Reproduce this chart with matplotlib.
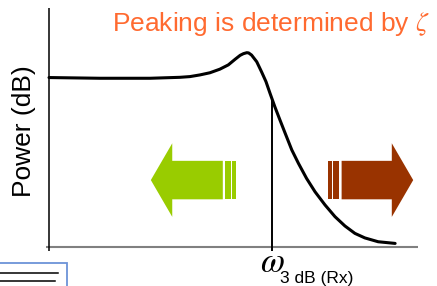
import matplotlib
matplotlib.use("Agg")
import matplotlib.pyplot as plt
from matplotlib.patches import Polygon, Rectangle
from matplotlib.lines import Line2D

plt.rcParams['font.family'] = ['Liberation Sans', 'DejaVu Sans']
plt.rcParams['mathtext.fontset'] = 'stix'

# response curve (arbitrary units, axes run 0..100)
freq = [0.0, 13.8, 27.4, 35.5, 38.2, 40.9, 43.6, 46.3, 48.6, 50.4, 51.8, 52.7,
        53.6, 54.1, 54.9, 56.3, 57.6, 58.8, 59.9, 61.2, 62.6, 64.0, 65.8, 67.6,
        69.8, 72.1, 74.8, 77.5, 80.2, 82.9, 85.6, 89.2, 93.8]
power = [70.9, 70.6, 70.6, 71.0, 71.3, 72.0, 72.9, 74.4, 76.2, 78.5, 80.2, 80.9,
         81.3, 81.2, 80.3, 77.5, 73.3, 69.2, 64.3, 58.7, 53.1, 47.6, 40.6, 35.0,
         28.7, 23.1, 17.6, 12.7, 8.8, 5.7, 3.8, 2.2, 1.5]
f3db = 60.4
p3db = 62.1

title = "Peaking is determined by $\\zeta$"
ylabel = "Power (dB)"
xsym = "$\\omega$"
xsub = "3 dB (Rx)"

GREEN = '#99CC00'
BROWN = '#993300'
ORANGE = '#FF6A30'


def block_arrow(ax, tip, base, end, stripes, color, y0=28.0, shaft=8.05, head=15.4):
    # striped block arrow, tip/base/end are x positions
    pts = [(end, y0 + shaft), (base, y0 + shaft), (base, y0 + head), (tip, y0),
           (base, y0 - head), (base, y0 - shaft), (end, y0 - shaft)]
    ax.add_patch(Polygon(pts, closed=True, facecolor=color, edgecolor='none'))
    for a, b in stripes:
        ax.add_patch(Rectangle((a, y0 - shaft), b - a, 2 * shaft,
                               facecolor=color, edgecolor='none'))


fig = plt.figure(figsize=(4.37, 2.86), dpi=100)
ax = fig.add_axes([49 / 437, 39 / 286, 369 / 437, 239 / 286])
ax.set_xlim(0, 100)
ax.set_ylim(0, 100)
ax.axis('off')

# axes lines
ax.plot([-0.8, 100], [0, 0], color='#808080', lw=1.5, clip_on=False, solid_capstyle='butt')
ax.plot([0, 0], [-1.7, 100], color='black', lw=1.1, clip_on=False, solid_capstyle='butt')

# cutoff marker
ax.plot([f3db, f3db], [-1.7, p3db], color='black', lw=1.4, clip_on=False, solid_capstyle='butt')

# response
ax.plot(freq, power, color='black', lw=2.2, solid_joinstyle='round',
        solid_capstyle='round', clip_on=False)

block_arrow(ax, 27.6, 33.4, 47.1, [(47.7, 49.2), (49.7, 50.7)], GREEN)
block_arrow(ax, 98.7, 92.9, 79.3, [(75.7, 76.6), (76.9, 78.7)], BROWN)

fig.text(430 / 437, 1 - 31.5 / 286, title, color=ORANGE, fontsize=19,
         ha='right', va='baseline')
fig.text(24 / 437, 1 - 131.5 / 286, ylabel, fontsize=19, rotation=90,
         ha='center', va='center')
fig.text(260 / 437, 1 - 272 / 286, xsym, fontsize=25, ha='left', va='baseline')
fig.text(280 / 437, 1 - 283 / 286, xsub, fontsize=12.5, ha='left', va='baseline')

# fragment of a box at the bottom left
fig.add_artist(Rectangle((-0.01, -0.05), 67 / 437 + 0.01, (286 - 263) / 286 + 0.05,
                         transform=fig.transFigure, facecolor='none',
                         edgecolor='#6C93D8', lw=1.3))
fig.add_artist(Line2D([0, 58 / 437], [1 - 273 / 286] * 2, transform=fig.transFigure,
                      color='black', lw=1.1))
fig.add_artist(Line2D([0, 55 / 437], [1 - 281 / 286] * 2, transform=fig.transFigure,
                      color='black', lw=1.1))

fig.savefig('out.png', dpi=100)
